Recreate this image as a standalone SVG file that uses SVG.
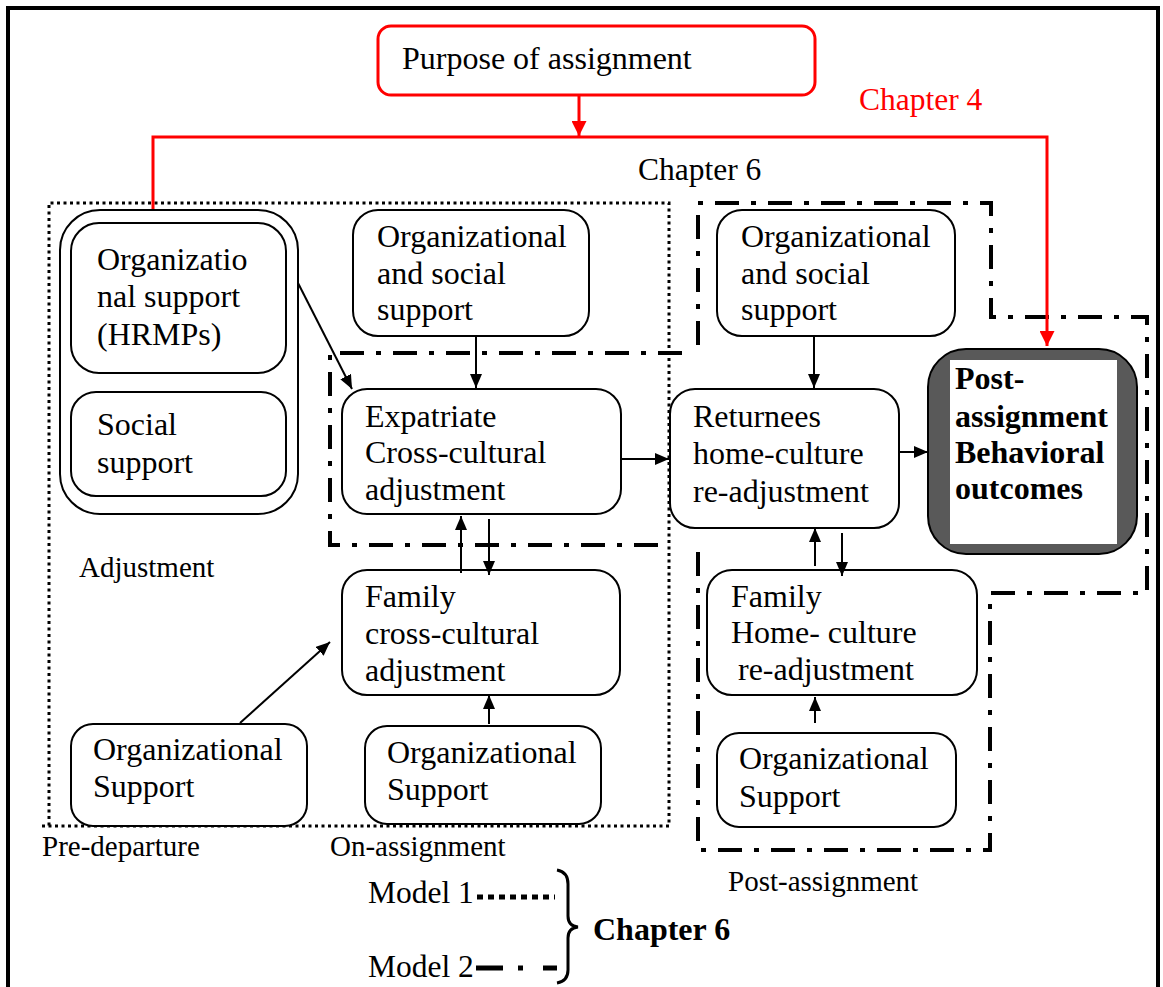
<svg xmlns="http://www.w3.org/2000/svg" width="1163" height="987" viewBox="0 0 1163 987">
  <style>
    text { font-family: "Liberation Serif", "Times New Roman", serif; fill: #000; }
    .t { font-size: 32px; }
    .b { font-size: 32px; font-weight: bold; }
    .lbl { font-size: 29px; }
    .chap { font-size: 31.5px; }
    .red { fill: #ff0000; }
    .node { fill: #fff; stroke: #000; stroke-width: 2; }
    .conn { stroke: #000; stroke-width: 2; fill: none; marker-end: url(#ah); }
    .rconn { stroke: #ff0000; stroke-width: 3; fill: none; }
    .m1 { fill: none; stroke: #000; stroke-width: 3; stroke-dasharray: 3 3.5; }
    .m2 { fill: none; stroke: #000; stroke-width: 4; stroke-dasharray: 24 12 5 12; }
  </style>
  <defs>
    <marker id="ah" viewBox="0 0 14 12" refX="14" refY="6" markerWidth="14" markerHeight="12" markerUnits="userSpaceOnUse" orient="auto">
      <path d="M0,0 L14,6 L0,12 z" fill="#000"/>
    </marker>
    <marker id="ahr" viewBox="0 0 15 15" refX="15" refY="7.5" markerWidth="15" markerHeight="15" markerUnits="userSpaceOnUse" orient="auto">
      <path d="M0,0 L15,7.5 L0,15 z" fill="#ff0000"/>
    </marker>
  </defs>

  <rect width="1163" height="987" fill="#fff"/>
  <!-- outer frame -->
  <rect x="8" y="8" width="1150" height="1010" fill="none" stroke="#000" stroke-width="4"/>

  <!-- model boundaries -->
  <g id="model-boundaries">
    <path class="m1" d="M42,826 H669 V203 H49 V826"/>
    <path class="m2" d="M682,353 H330 V545 H658"/>
    <path class="m2" d="M698,345 V203 H991 V317 H1147 V593 H990 V850 H698 V545"/>
  </g>

  <!-- chapter 4 feedback lines -->
  <g id="chapter4-lines">
    <path class="rconn" d="M153,224 V137 H1047 V346" marker-end="url(#ahr)"/>
    <path class="rconn" d="M579,95 V136" marker-end="url(#ahr)"/>
  </g>

  <g id="purpose">
    <rect x="378" y="26" width="437" height="69" rx="13" fill="#fff" stroke="#ff0000" stroke-width="3"/>
    <text class="t" x="402" y="69">Purpose of assignment</text>
  </g>

  <text class="chap red" x="859" y="110">Chapter 4</text>
  <text class="chap" x="638" y="180">Chapter 6</text>

  <!-- pre-departure supports -->
  <g id="pre-support-group">
    <rect class="node" x="60" y="210" width="238" height="304" rx="40"/>
  </g>
  <g id="org-support-hrmps">
    <rect class="node" x="71" y="223" width="215" height="150" rx="28"/>
    <text class="t" x="97" y="270">Organizatio</text>
    <text class="t" x="97" y="307">nal support</text>
    <text class="t" x="97" y="345">(HRMPs)</text>
  </g>
  <g id="social-support">
    <rect class="node" x="71" y="392" width="215" height="104" rx="25"/>
    <text class="t" x="97" y="435">Social</text>
    <text class="t" x="97" y="473">support</text>
  </g>
  <text class="lbl" x="79" y="577">Adjustment</text>

  <g id="org-support-pre">
    <rect class="node" x="71" y="724" width="236" height="102" rx="22"/>
    <text class="t" x="93" y="760">Organizational</text>
    <text class="t" x="93" y="797">Support</text>
  </g>

  <!-- on-assignment -->
  <g id="org-social-on">
    <rect class="node" x="353" y="210" width="236" height="126" rx="25"/>
    <text class="t" x="377" y="247">Organizational</text>
    <text class="t" x="377" y="284">and social</text>
    <text class="t" x="377" y="320">support</text>
  </g>
  <g id="expat-adjustment">
    <rect class="node" x="342" y="389" width="279" height="125" rx="25"/>
    <text class="t" x="365" y="427">Expatriate</text>
    <text class="t" x="365" y="463">Cross-cultural</text>
    <text class="t" x="365" y="500">adjustment</text>
  </g>
  <g id="family-adjustment">
    <rect class="node" x="342" y="570" width="278" height="125" rx="25"/>
    <text class="t" x="365" y="607">Family</text>
    <text class="t" x="365" y="644">cross-cultural</text>
    <text class="t" x="365" y="681">adjustment</text>
  </g>
  <g id="org-support-on">
    <rect class="node" x="365" y="726" width="236" height="98" rx="22"/>
    <text class="t" x="387" y="763">Organizational</text>
    <text class="t" x="387" y="800">Support</text>
  </g>

  <!-- post-assignment -->
  <g id="org-social-post">
    <rect class="node" x="717" y="210" width="238" height="126" rx="25"/>
    <text class="t" x="741" y="247">Organizational</text>
    <text class="t" x="741" y="284">and social</text>
    <text class="t" x="741" y="320">support</text>
  </g>
  <g id="returnee-readjustment">
    <rect class="node" x="670" y="389" width="229" height="139" rx="25"/>
    <text class="t" x="693" y="427">Returnees</text>
    <text class="t" x="693" y="464">home-culture</text>
    <text class="t" x="693" y="502">re-adjustment</text>
  </g>
  <g id="family-readjustment">
    <rect class="node" x="707" y="570" width="270" height="125" rx="25"/>
    <text class="t" x="731" y="607">Family</text>
    <text class="t" x="731" y="643">Home- culture</text>
    <text class="t" x="738" y="680">re-adjustment</text>
  </g>
  <g id="org-support-post">
    <rect class="node" x="717" y="733" width="239" height="94" rx="22"/>
    <text class="t" x="739" y="769">Organizational</text>
    <text class="t" x="739" y="807">Support</text>
  </g>
  <g id="behavioral-outcomes">
    <rect x="928" y="349" width="209" height="205" rx="38" fill="#595959" stroke="#000" stroke-width="2"/>
    <rect x="950" y="360" width="167" height="184" fill="#fff"/>
    <text class="b" x="955" y="389">Post-</text>
    <text class="b" x="955" y="427">assignment</text>
    <text class="b" x="955" y="463">Behavioral</text>
    <text class="b" x="955" y="499">outcomes</text>
  </g>

  <!-- connectors -->
  <g id="connectors">
    <line class="conn" x1="298" y1="283" x2="352" y2="389"/>
    <line class="conn" x1="476" y1="336" x2="476" y2="388"/>
    <line class="conn" x1="621" y1="459" x2="669" y2="459"/>
    <line class="conn" x1="899" y1="452" x2="928" y2="452"/>
    <line class="conn" x1="814" y1="336" x2="814" y2="388"/>
    <line class="conn" x1="461" y1="573" x2="461" y2="516"/>
    <line class="conn" x1="489" y1="519" x2="489" y2="575"/>
    <line class="conn" x1="489" y1="724" x2="489" y2="695"/>
    <line class="conn" x1="240" y1="723" x2="330" y2="642"/>
    <line class="conn" x1="815" y1="566" x2="815" y2="528"/>
    <line class="conn" x1="842" y1="533" x2="842" y2="576"/>
    <line class="conn" x1="815" y1="723" x2="815" y2="697"/>
  </g>

  <!-- phase labels -->
  <text class="lbl" x="42" y="856">Pre-departure</text>
  <text class="lbl" x="330" y="856">On-assignment</text>
  <text class="lbl" x="728" y="891">Post-assignment</text>

  <!-- legend -->
  <g id="legend">
    <text class="chap" x="368" y="903">Model 1</text>
    <line x1="477" y1="897" x2="555" y2="897" stroke="#000" stroke-width="5" stroke-dasharray="6 5"/>
    <text class="chap" x="368" y="977">Model 2</text>
    <path d="M476,968 H503 M518,968 H523 M543,968 H557" stroke="#000" stroke-width="5" fill="none"/>
    <path d="M557,870 Q568,872 568,884 V916 Q568,926 578,927 Q568,928 568,938 V970 Q568,981 557,983" stroke="#000" stroke-width="3" fill="none"/>
    <text class="b" x="593" y="940">Chapter 6</text>
  </g>
</svg>
